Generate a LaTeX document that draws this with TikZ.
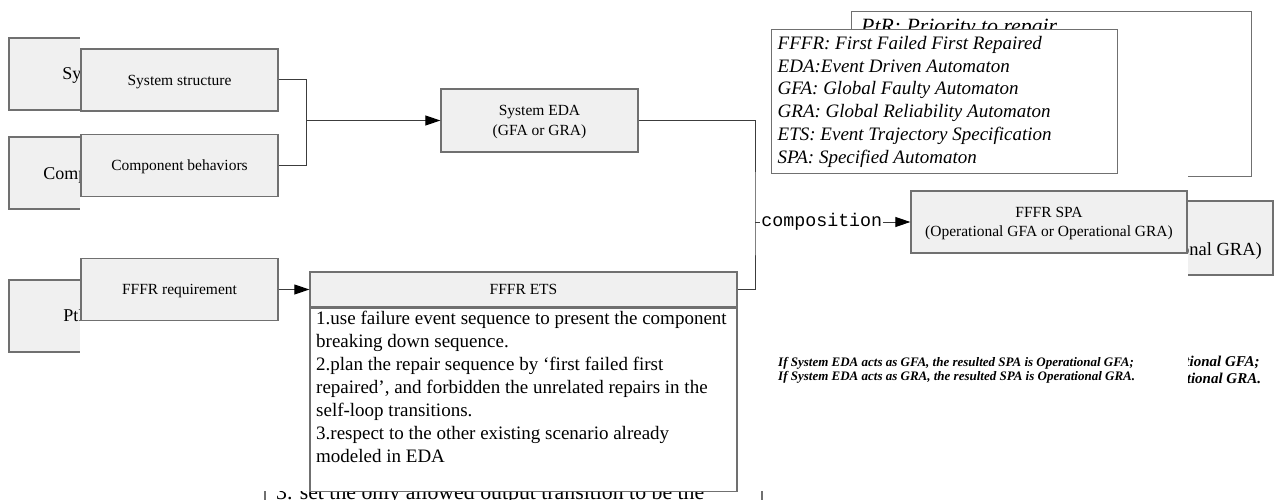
\documentclass[tikz,border=0pt]{standalone}
\usepackage{fontspec}
\setmainfont{Liberation Serif}
\setmonofont{Liberation Mono}
\usetikzlibrary{arrows.meta}
\definecolor{boxfill}{HTML}{F0F0F0}
\definecolor{boxline}{HTML}{707070}
\definecolor{wireline}{HTML}{3C3C3C}

\begin{document}
\begin{tikzpicture}[x=1pt, y=-1pt,
    box/.style={draw=boxline, fill=boxfill, line width=1.3pt, minimum width=197pt, minimum height=62pt, inner sep=0pt, text depth=0pt, align=center, font=\fontsize{15.5}{19.5}\selectfont},
    bgbox/.style={box, minimum width=227pt, minimum height=72pt, font=\fontsize{18}{22}\selectfont},
    frame/.style={draw=boxline, fill=white, line width=1.3pt, inner sep=0pt},
    wire/.style={draw=wireline, line width=1pt},
    arrow/.style={-{Triangle[length=15pt,width=10pt,color=black]}},
    legendtext/.style={align=left, inner sep=0pt, font=\fontsize{19}{23}\selectfont\itshape},
    bodytext/.style={align=left, inner sep=0pt, font=\fontsize{19}{23}\selectfont},
    notetext/.style={align=left, inner sep=0pt, font=\fontsize{13}{14.5}\selectfont\bfseries\itshape}]

    \useasboundingbox (0,0) rectangle (1274,500);

    % copy of the larger diagram, lying underneath
    \node[bgbox] (bgsys) at (122.5,74) {System structure};
    \node[bgbox] (bgcomp) at (122.5,173) {Component behaviors};
    \node[bgbox] (bgptr) at (122.5,316) {PtR requirement};
    \node[frame, minimum width=400pt, minimum height=165pt, anchor=north west] (bglegend) at (851,11) {};
    \node[legendtext, font=\fontsize{21.8}{26}\selectfont\itshape, anchor=base west] (bgptrtext) at (861,33.5) {PtR: Priority to repair};
    \node[bgbox, minimum width=318pt, minimum height=74pt, font=\fontsize{18.5}{22}\selectfont] (bgspa) at (1114,238) {FFFR SPA\\(Operational GFA or Operational GRA)};
    \node[notetext, font=\fontsize{15}{16.5}\selectfont\bfseries\itshape, anchor=base west] (bgnote) at (849,383) {If System EDA acts as GFA, the resulted SPA is Operational GFA;\\If System EDA acts as GRA, the resulted SPA is Operational GRA.};
    \draw[boxline, line width=1.3pt] (265,480) -- (265,500);
    \draw[boxline, line width=1.3pt] (762,480) -- (762,500);
    \node[bodytext, font=\fontsize{21.8}{26}\selectfont, anchor=base west] (bgetsline) at (276,499) {3. set the only allowed output transition to be the};

    % the diagram on top
    \fill[white] (80,29) rectangle (1188,491);

    \node[box] (sysstr) at (179.5,80) {System structure};
    \node[box] (compbeh) at (179.5,165.5) {Component behaviors};
    \node[box] (fffrreq) at (179.5,289.5) {FFFR requirement};
    \node[box, minimum height=63pt] (syseda) at (539.5,120.5) {System EDA\\(GFA or GRA)};

    \node[box, minimum width=427pt, minimum height=35pt] (etshead) at (523.5,289.5) {FFFR ETS};
    \node[frame, minimum width=427pt, minimum height=183pt, anchor=north] (etsbody) at (etshead.south) {};
    \node[bodytext, anchor=base west] (etsnote) at (316,462) {1.use failure event sequence to present the component\\breaking down sequence.\\2.plan the repair sequence by `first failed first\\repaired', and forbidden the unrelated repairs in the\\self-loop transitions.\\3.respect to the other existing scenario already\\modeled in EDA};

    \node[box, minimum width=276pt, minimum height=62pt] (fffrspa) at (1049,222) {FFFR SPA\\(Operational GFA or Operational GRA)};

    \node[frame, minimum width=346pt, minimum height=144pt, anchor=north west] (legend) at (771,29) {};
    \node[legendtext, anchor=base west] (legendlist) at (777.5,164) {FFFR: First Failed First Repaired\\EDA:Event Driven Automaton\\GFA: Global Faulty Automaton\\GRA: Global Reliability Automaton\\ETS: Event Trajectory Specification\\SPA: Specified Automaton};

    \node[notetext, anchor=base west] (note) at (778,380.5) {If System EDA acts as GFA, the resulted SPA is Operational GFA;\\If System EDA acts as GRA, the resulted SPA is Operational GRA.};

    % connectors
    \coordinate (join) at (306,120.5);
    \coordinate (bus) at (755,222);
    \draw[wire] (sysstr.east) -| (join);
    \draw[wire] (compbeh.east) -| (join);
    \draw[wire, arrow] (join) -- (syseda.west);
    \draw[wire, arrow] (fffrreq.east) -- (etshead.west);
    \draw[wire] (syseda.east) -| (bus) |- (etshead.east);
    \draw[wire, arrow] (bus) -- node[pos=0.43, fill=white, inner xsep=1pt, inner ysep=2pt, font=\fontsize{18.3}{20}\ttfamily] (complabel) {composition} (fffrspa.west);
\end{tikzpicture}
\end{document}
